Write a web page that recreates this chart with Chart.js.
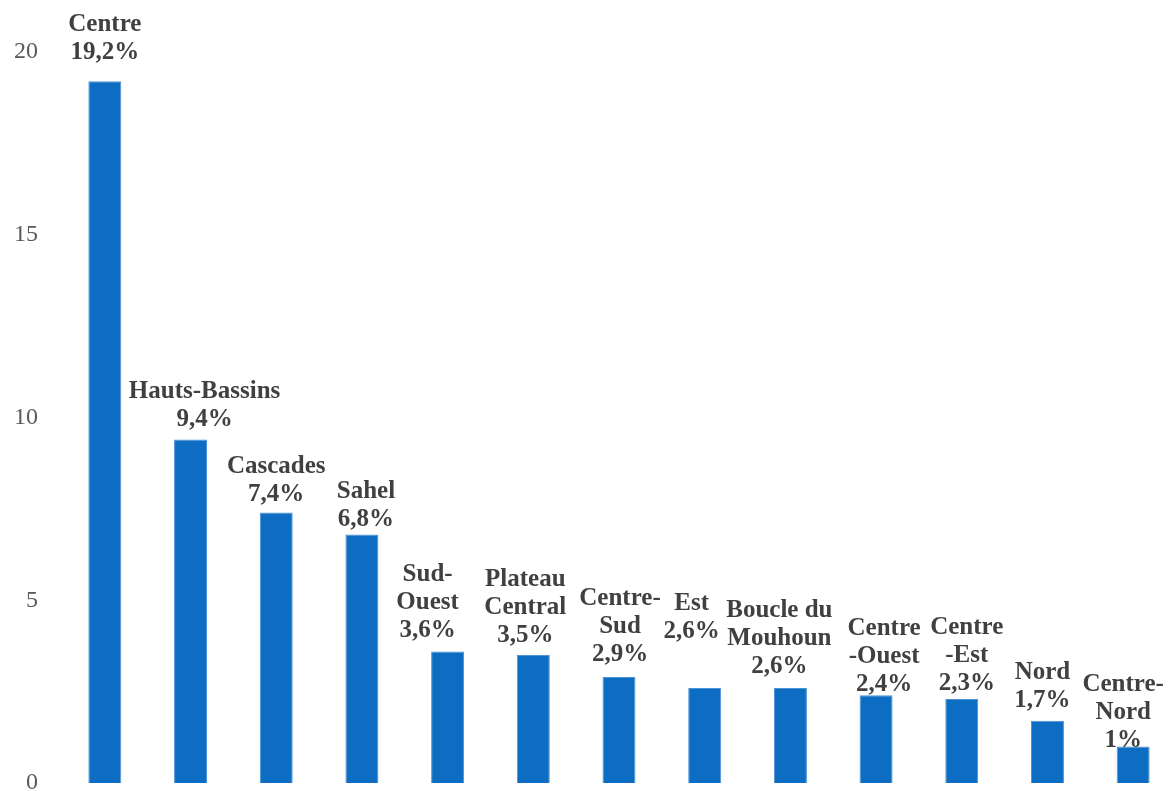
<!DOCTYPE html>
<html>
<head>
<meta charset="utf-8">
<script src="https://cdn.jsdelivr.net/npm/chart.js@4/dist/chart.umd.min.js"></script>
<style>
  html, body { margin: 0; padding: 0; background: #fff; overflow: hidden; }
  #wrap { width: 1180px; height: 791px; }
</style>
</head>
<body>
<div id="wrap"><canvas id="barChart" width="1180" height="791"></canvas></div>
<script>
// regions (as printed above each bar, one entry per line)
const regions = [
    ['Centre'],
    ['Hauts-Bassins'],
    ['Cascades'],
    ['Sahel'],
    ['Sud-', 'Ouest'],
    ['Plateau', 'Central'],
    ['Centre-', 'Sud'],
    ['Est'],
    ['Boucle du', 'Mouhoun'],
    ['Centre', '-Ouest'],
    ['Centre', '-Est'],
    ['Nord'],
    ['Centre-', 'Nord']
];
const shares = [19.2, 9.4, 7.4, 6.8, 3.6, 3.5, 2.9, 2.6, 2.6, 2.4, 2.3, 1.7, 1];
const yTicks = [0, 5, 10, 15, 20];

function pct(v) {
    return String(v).replace('.', ',') + '%';
}

// labels above the bars, drawn by hand like the original
const barLabels = {
    id: 'barLabels',
    afterDatasetsDraw(chart, args, opts) {
        const ctx = chart.ctx;
        const meta = chart.getDatasetMeta(0);
        ctx.save();
        ctx.font = 'bold 25px "Liberation Serif", "Times New Roman", serif';
        ctx.fillStyle = '#404040';
        ctx.textAlign = 'center';
        ctx.textBaseline = 'middle';
        meta.data.forEach((bar, i) => {
            const lines = regions[i].concat([pct(shares[i])]);
            const x = bar.x + opts.dx[i];
            let y = bar.y - opts.gap[i];
            for (let k = lines.length - 1; k >= 0; k--) {
                ctx.fillText(lines[k], x, y);
                y -= opts.lineHeight;
            }
        });
        ctx.restore();
    }
};

const ctx = document.getElementById('barChart').getContext('2d');
const chart = new Chart(ctx, {
    type: 'bar',
    data: {
        labels: regions.map(r => r.join(' ')),
        datasets: [{
            data: shares,
            backgroundColor: '#0c6dc2',
            borderColor: '#4c93d4',
            borderWidth: 1,
            barPercentage: 0.385,
            categoryPercentage: 1
        }]
    },
    options: {
        responsive: false,
        animation: false,
        layout: { padding: { top: 52, bottom: 8, left: 0, right: 4 } },
        plugins: {
            legend: { display: false },
            tooltip: { enabled: false },
            barLabels: {
                lineHeight: 28,
                gap: [29, 20, 18, 15, 21, 20, 22, 56, 21, 11, 15, 20, 6],
                dx: [0, 14, 0, 4, -20, -8, 1, -13, -11, 8, 5, -5, -10]
            }
        },
        scales: {
            x: {
                display: false
            },
            y: {
                min: 0,
                max: 20,
                afterBuildTicks: (scale) => {
                    scale.ticks = yTicks.map(v => ({ value: v }));
                },
                afterFit: (scale) => {
                    scale.width = 62;
                    scale.paddingTop = 0;
                    scale.paddingBottom = 0;
                },
                grid: { display: false },
                border: { display: false },
                ticks: {
                    padding: 16,
                    color: '#595959',
                    font: { family: '"Liberation Serif", "Times New Roman", serif', size: 24 }
                }
            }
        }
    },
    plugins: [barLabels]
});
</script>
</body>
</html>
